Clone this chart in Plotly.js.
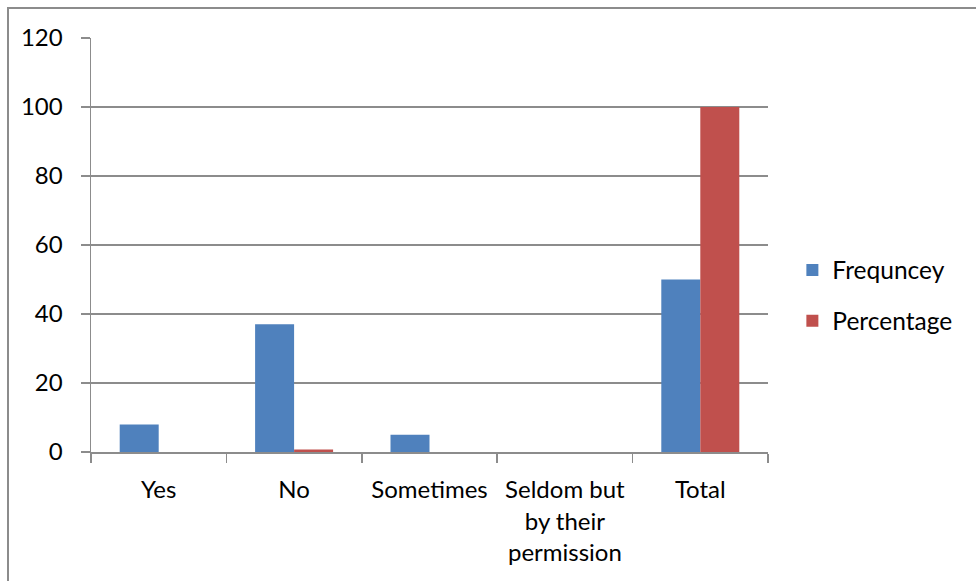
<!DOCTYPE html>
<html>
<head>
<meta charset="utf-8">
<script src="https://cdn.plot.ly/plotly-3.0.1.min.js"></script>
<style>
  html, body { margin: 0; padding: 0; background: #ffffff; }
  #chart { width: 976px; height: 581px; }
</style>
</head>
<body>
<div id="chart"></div>
<script>
// Survey responses: counts and share of the total
const categories = ["Yes", "No", "Sometimes", "Seldom but<br>by their<br>permission", "Total"];
const frequency = [8, 37, 5, 0, 50];
const percentage = [0, 0.74, 0, 0, 100];

const yTicks = [0, 20, 40, 60, 80, 100, 120];

const FONT = "Lato, 'Open Sans', sans-serif";
const GRID = "#8c8c8c";

const traces = [
  {
    type: "bar",
    name: "Frequncey",
    x: categories,
    y: frequency,
    marker: { color: "#4F81BD" },
    legendgroup: "a",
    hoverinfo: "x+y"
  },
  {
    type: "bar",
    name: "Percentage",
    x: categories,
    y: percentage,
    marker: { color: "#C0504D" },
    legendgroup: "b",
    hoverinfo: "x+y"
  }
];

const layout = {
  width: 976,
  height: 581,
  margin: { l: 91, r: 208, t: 38, b: 128.5 },
  paper_bgcolor: "#ffffff",
  plot_bgcolor: "#ffffff",
  font: { family: FONT, size: 24, color: "#000000" },
  barmode: "group",
  bargap: 0.424,
  bargroupgap: 0,
  showlegend: true,
  legend: {
    x: 1.036,
    xanchor: "left",
    y: 0.378,
    yanchor: "middle",
    traceorder: "grouped",
    tracegroupgap: 16,
    font: { family: FONT, size: 24.5, color: "#000000" },
    bgcolor: "rgba(0,0,0,0)"
  },
  xaxis: {
    type: "category",
    tickson: "boundaries",
    ticks: "outside",
    ticklen: 9,
    tickcolor: GRID,
    tickwidth: 1.5,
    showline: true,
    linecolor: GRID,
    linewidth: 1.5,
    showgrid: false,
    zeroline: false,
    ticklabelstandoff: 16,
    tickfont: { family: FONT, size: 24, color: "#000000" }
  },
  yaxis: {
    range: [0, 120],
    tickvals: yTicks,
    ticktext: yTicks.map(String),
    ticks: "outside",
    ticklen: 9,
    tickcolor: GRID,
    tickwidth: 1.5,
    showline: true,
    linecolor: GRID,
    linewidth: 1.5,
    showgrid: true,
    gridcolor: GRID,
    gridwidth: 1.5,
    zeroline: false,
    ticklabelstandoff: 13,
    tickfont: { family: FONT, size: 24, color: "#000000" }
  },
  shapes: [
    {
      // outer chart frame
      type: "rect",
      xref: "paper",
      yref: "paper",
      x0: -0.1226,
      x1: 1.32,
      y0: -0.4,
      y1: 1.0725,
      line: { color: GRID, width: 2 },
      fillcolor: "rgba(0,0,0,0)",
      layer: "below"
    }
  ]
};

Plotly.newPlot("chart", traces, layout, { displayModeBar: false, staticPlot: true });
</script>
</body>
</html>
